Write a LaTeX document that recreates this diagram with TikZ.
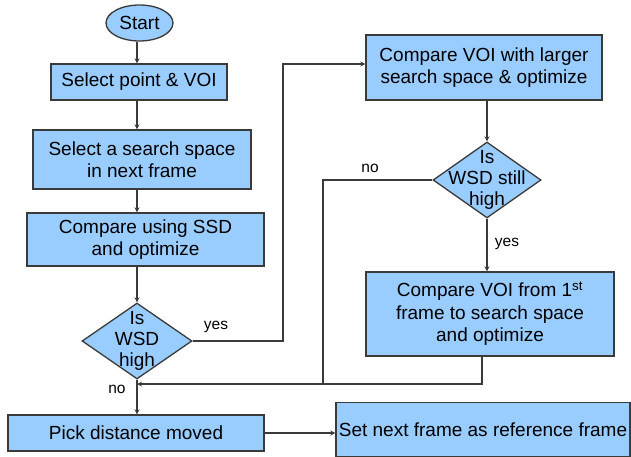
\documentclass[tikz,border=0pt]{standalone}
\usepackage{fontspec}
\setmainfont{Liberation Sans}
\usetikzlibrary{shapes.geometric}

\definecolor{boxblue}{HTML}{99CCFF}
\definecolor{edgegray}{HTML}{3A3A3A}

\tikzset{
	box/.style={draw=edgegray,fill=boxblue,line width=1.3pt,align=center,inner sep=0pt,
		font=\fontsize{19}{22.5}\selectfont},
	dia/.style={box,diamond,aspect=1.42},
	dtext/.style={align=center,inner sep=0pt,font=\fontsize{19}{21}\selectfont},
	lab/.style={font=\fontsize{15.5}{18}\selectfont,inner sep=0pt},
	conn/.style={->,>=stealth,line width=1.2pt,draw=edgegray},
	wire/.style={line width=1.2pt,draw=edgegray},
}

\begin{document}
\begin{tikzpicture}[x=1pt,y=-1pt]

		\useasboundingbox (0,0) rectangle (631,457);

		% left column
		\node[box,ellipse,minimum width=67pt,minimum height=36pt] (start) at (139.5,23) {Start};
		\node[box,minimum width=176pt,minimum height=36pt] (sel) at (139,82) {Select point \& VOI};
		\node[box,minimum width=218pt,minimum height=59pt] (space) at (142,159.5) {Select a search space\\in next frame};
		\node[box,minimum width=237pt,minimum height=53pt] (ssd) at (145.5,239.5) {Compare using SSD\\and optimize};
		\node[dia,minimum width=110pt,minimum height=76pt,label={[dtext]center:Is\\WSD\\high}] (isw) at (137,341) {};
		\node[box,minimum width=256pt,minimum height=36pt] (pick) at (136,433) {Pick distance moved};

		% right column
		\node[box,minimum width=236pt,minimum height=65pt] (larger) at (484,67.5) {Compare VOI with larger\\search space \& optimize};
		\node[dia,minimum width=108pt,minimum height=76pt,label={[dtext]center:Is\\WSD still\\high}] (still) at (487,180) {};
		\node[box,minimum width=248pt,minimum height=84pt] (first) at (490,314) {Compare VOI from 1\textsuperscript{st}\\frame to search space\\and optimize};
		\node[box,minimum width=294pt,minimum height=54pt] (setref) at (483,429.5) {Set next frame as reference frame};

		\coordinate (join) at (137,384);

		% connectors
		\draw[conn] (start.south -| isw) -- (sel.north -| isw);
		\draw[conn] (sel.south -| isw) -- (space.north -| isw);
		\draw[conn] (space.south -| isw) -- (ssd.north -| isw);
		\draw[conn] (ssd.south -| isw) -- (isw.north);
		\draw[conn] (isw.south) -- (pick.north -| isw);
		\draw[conn] (isw.east) -| (283,64) -- (larger.west |- 0,64);
		\draw[conn] (larger.south -| still) -- (still.north);
		\draw[conn] (still.south) -- (first.north -| still);
		\draw[conn] (first.south -| 482,0) |- (join);
		\draw[wire] (still.west) -| (323,384);
		\draw[conn] (pick.east) -- (setref.west |- pick.east);

		% labels
		\node[lab] (yes1) at (216,327) {yes};
		\node[lab] (no1) at (117,389) {no};
		\node[lab] (no2) at (370,168) {no};
		\node[lab] (yes2) at (507,244) {yes};
	\end{tikzpicture}
\end{document}
